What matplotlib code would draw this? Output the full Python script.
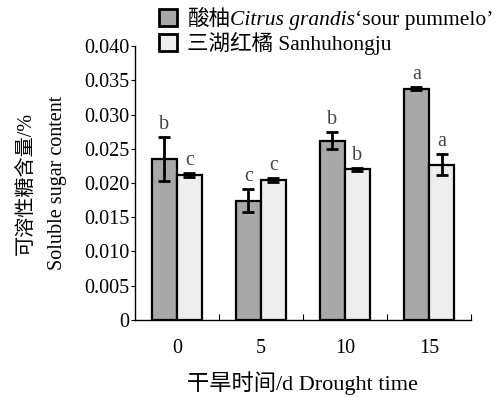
import matplotlib
matplotlib.use("Agg")
import matplotlib.pyplot as plt
from matplotlib.text import Annotation
import numpy as np

plt.rcParams['font.family'] = ['Liberation Serif', 'Noto Sans CJK SC']

days = ['0', '5', '10', '15']
sour = [0.0235, 0.0174, 0.0262, 0.0338]
sour_err = [0.0032, 0.0017, 0.0013, 0.0002]
sour_sig = ['b', 'c', 'b', 'a']
sanhu = [0.0212, 0.0205, 0.0220, 0.0227]
sanhu_err = [0.0003, 0.0003, 0.0002, 0.0016]
sanhu_sig = ['c', 'c', 'b', 'a']

fs = 14.5
fig = plt.figure(figsize=(5.01, 3.97), dpi=100)
ax = fig.add_axes([0.269, 0.194, 0.671, 0.690])

x = np.arange(len(days))
w = 0.30
eb = dict(ecolor='black', elinewidth=2, capsize=4, capthick=2)
b1 = ax.bar(x - w / 2, sour, w, yerr=sour_err, color='#a8a8a8',
            edgecolor='black', linewidth=1.6, error_kw=eb)
b2 = ax.bar(x + w / 2, sanhu, w, yerr=sanhu_err, color='#eeeeee',
            edgecolor='black', linewidth=1.6, error_kw=eb)

for xi, v, e, s in zip(x - w / 2, sour, sour_err, sour_sig):
    ax.annotate(s, (xi, v + e), xytext=(0, 2), textcoords='offset points',
                ha='center', va='bottom', fontsize=fs, color='#444444')
for xi, v, e, s in zip(x + w / 2, sanhu, sanhu_err, sanhu_sig):
    ax.annotate(s, (xi, v + e), xytext=(0, 2), textcoords='offset points',
                ha='center', va='bottom', fontsize=fs, color='#444444')

ax.set_xlim(-0.5, 3.5)
ax.set_ylim(0, 0.040)
ax.set_yticks(np.arange(0, 0.0401, 0.005))
ax.set_yticklabels(['0'] + ['%.3f' % v for v in np.arange(0.005, 0.0401, 0.005)])
ax.set_xticks(x)
ax.set_xticklabels(days)
ax.set_xticks([0.5, 1.5, 2.5, 3.5], minor=True)
ax.tick_params(axis='x', which='major', length=0, pad=14, labelsize=fs)
ax.tick_params(axis='x', which='minor', direction='in', length=4, width=0.8)
ax.tick_params(axis='y', direction='out', length=3, width=0.8, pad=1, labelsize=fs)
for sp in ['top', 'right']:
    ax.spines[sp].set_visible(False)
for sp in ['left', 'bottom']:
    ax.spines[sp].set_linewidth(1.0)

ax.set_ylabel('可溶性糖含量/%\nSoluble sugar content', fontsize=fs, labelpad=12,
              linespacing=1.9)
ax.set_xlabel('干旱时间/d Drought time', fontsize=16, labelpad=9)

lfs = 15.5
leg = fig.legend([b1, b2], ['酸柚', '三湖红橘 Sanhuhongju'], loc='upper left',
                 bbox_to_anchor=(0.300, 1.0), frameon=False, fontsize=lfs,
                 handlelength=0.85, handleheight=0.85, handletextpad=0.45,
                 labelspacing=0.12, borderaxespad=0)
for h in leg.legend_handles:
    h.set_linewidth(2.0)
t0 = leg.get_texts()[0]
t1 = Annotation('Citrus grandis', xy=(1, 0), xycoords=t0, va='bottom',
                ha='left', fontsize=lfs, style='italic', zorder=10)
fig.add_artist(t1)
t2 = Annotation('‘sour pummelo’', xy=(1, 0), xycoords=t1, va='bottom',
                ha='left', fontsize=lfs, zorder=11)
fig.add_artist(t2)

fig.savefig('out.png', dpi=100)
